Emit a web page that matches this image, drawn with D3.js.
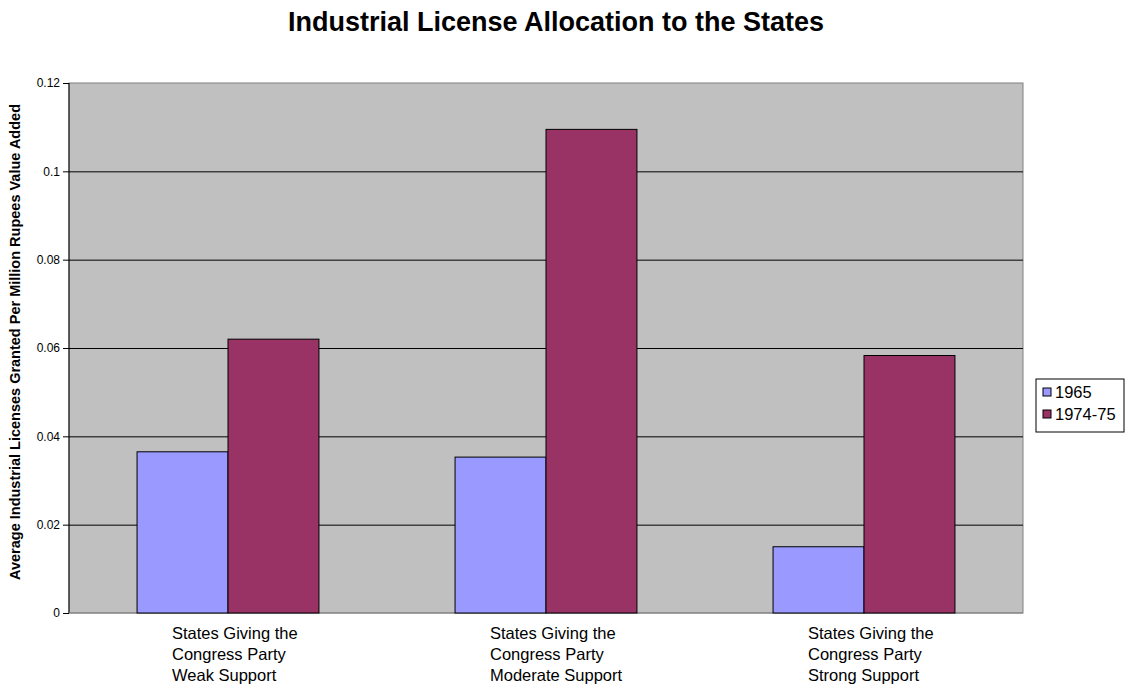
<!DOCTYPE html>
<html>
<head>
<meta charset="utf-8">
<script src="https://cdn.jsdelivr.net/npm/d3@7"></script>
<style>
  body { margin: 0; background: #fff; }
  text { font-family: Arial, "Liberation Sans", sans-serif; }
  .y.axis path { display: none; }
  .grid line { stroke: #000; stroke-width: 1; }
  .grid path { display: none; }
</style>
</head>
<body>
<div id="chart"></div>
<script>
// data
var categories = [
  ["States Giving the", "Congress Party", "Weak Support"],
  ["States Giving the", "Congress Party", "Moderate Support"],
  ["States Giving the", "Congress Party", "Strong Support"]
];
var seriesNames = ["1965", "1974-75"];
var values1965 = [0.0365, 0.0353, 0.0150];
var values1974 = [0.0620, 0.1095, 0.0583];
var yTicks = [0, 0.02, 0.04, 0.06, 0.08, 0.1, 0.12];
var colors = ["#9999ff", "#993366"];

var width = 1128, height = 690;
var margins = { top: 83, right: 105, bottom: 77, left: 69 };
var chartWidth = width - margins.left - margins.right;
var chartHeight = height - margins.top - margins.bottom;

var svg = d3.select("#chart")
  .append("svg")
  .attr("width", width)
  .attr("height", height);

svg.append("text")
  .attr("x", 556)
  .attr("y", 31)
  .attr("text-anchor", "middle")
  .style("font-size", "27px")
  .style("font-weight", "bold")
  .text("Industrial License Allocation to the States");

var chartElement = svg.append("g")
  .attr("transform", `translate(${margins.left},${margins.top})`);

var xScale = d3.scaleBand()
  .domain(d3.range(categories.length))
  .range([0, chartWidth])
  .paddingInner(0.428)
  .paddingOuter(0.214);

var xInner = d3.scaleBand()
  .domain(seriesNames)
  .range([0, xScale.bandwidth()]);

var yScale = d3.scaleLinear()
  .domain([0, 0.12])
  .range([chartHeight, 0]);

// plot background
chartElement.append("rect")
  .attr("width", chartWidth)
  .attr("height", chartHeight)
  .attr("fill", "#c0c0c0")
  .attr("stroke", "#808080");

// grid
chartElement.append("g")
  .attr("class", "grid")
  .call(d3.axisLeft(yScale).tickValues(yTicks.filter(d => d > 0 && d < 0.12)).tickSize(-chartWidth).tickFormat(""));

// y axis
var yAxis = chartElement.append("g")
  .attr("class", "y axis")
  .call(d3.axisLeft(yScale).tickValues(yTicks).tickSize(6).tickPadding(3).tickFormat(d => d3.format("")(+d.toFixed(2))));
yAxis.selectAll("text").style("font-size", "12px").attr("fill", "#000");
yAxis.selectAll("line").attr("stroke", "#000");
yAxis.append("line")
  .attr("y1", 0).attr("y2", chartHeight)
  .attr("stroke", "#000");

// x axis line
chartElement.append("line")
  .attr("x1", 0).attr("x2", chartWidth)
  .attr("y1", chartHeight).attr("y2", chartHeight)
  .attr("stroke", "#808080");

// bars
var seriesValues = [values1965, values1974];
var barData = [];
categories.forEach((c, i) => {
  seriesNames.forEach((s, j) => {
    barData.push({ cat: i, series: s, value: seriesValues[j][i], color: colors[j] });
  });
});

chartElement.append("g")
  .attr("class", "bars")
  .selectAll("rect")
  .data(barData)
  .enter()
  .append("rect")
  .attr("x", d => xScale(d.cat) + xInner(d.series))
  .attr("y", d => yScale(d.value))
  .attr("width", xInner.bandwidth())
  .attr("height", d => chartHeight - yScale(d.value))
  .attr("fill", d => d.color)
  .attr("stroke", "#000")
  .attr("stroke-width", 1);

// category labels
var catLabels = chartElement.append("g")
  .attr("class", "x labels")
  .selectAll("text")
  .data(categories)
  .enter()
  .append("text")
  .attr("x", (d, i) => xScale(i) + xScale.bandwidth() / 2 - 56)
  .attr("y", chartHeight + 26)
  .style("font-size", "16.5px")
  .attr("fill", "#000");

catLabels.selectAll("tspan")
  .data(d => d)
  .enter()
  .append("tspan")
  .attr("x", function() { return d3.select(this.parentNode).attr("x"); })
  .attr("dy", (d, i) => i === 0 ? 0 : 21)
  .text(d => d);

// y axis title
svg.append("text")
  .attr("transform", `translate(20,${margins.top + chartHeight / 2 - 6}) rotate(-90)`)
  .attr("text-anchor", "middle")
  .style("font-size", "14.5px")
  .style("font-weight", "bold")
  .text("Average Industrial Licenses Granted Per Million Rupees Value Added");

// legend
var legend = svg.append("g")
  .attr("transform", "translate(1036,379)");
legend.append("rect")
  .attr("width", 88)
  .attr("height", 53)
  .attr("fill", "#fff")
  .attr("stroke", "#000");
var items = legend.selectAll("g.item")
  .data(seriesNames)
  .enter()
  .append("g")
  .attr("class", "item")
  .attr("transform", (d, i) => `translate(7,${9 + i * 22})`);
items.append("rect")
  .attr("width", 8)
  .attr("height", 8)
  .attr("fill", (d, i) => colors[i])
  .attr("stroke", "#000");
items.append("text")
  .attr("x", 12)
  .attr("y", 10)
  .style("font-size", "16.5px")
  .text(d => d);
</script>
</body>
</html>
